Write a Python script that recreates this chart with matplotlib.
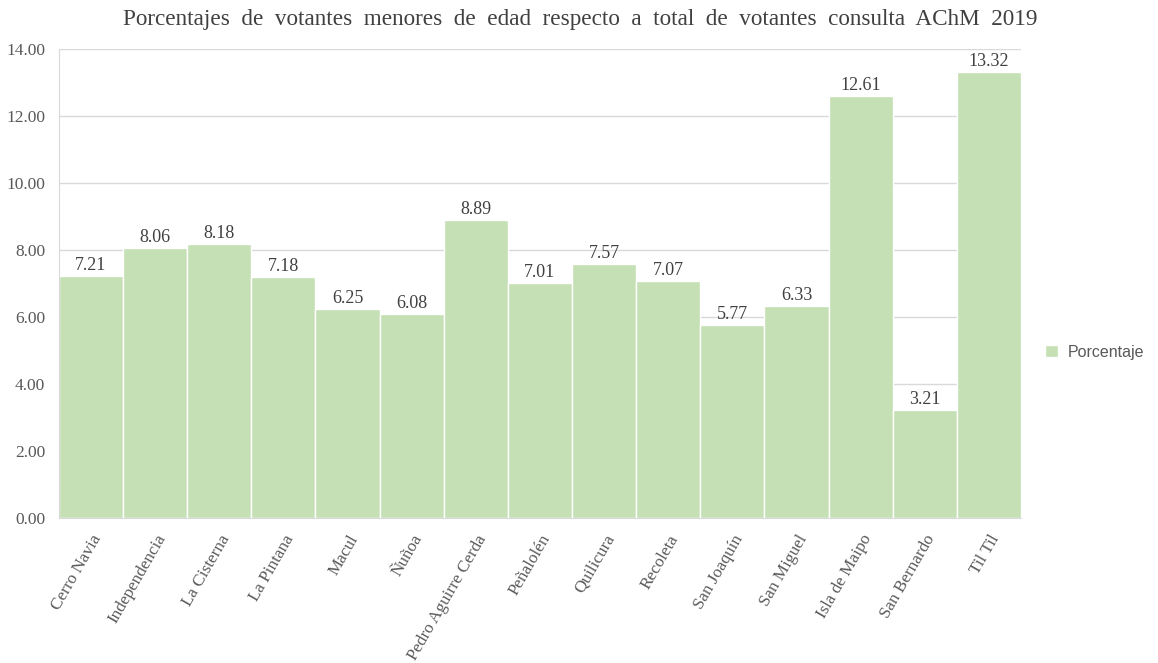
import numpy as np
import matplotlib
matplotlib.use("Agg")
import matplotlib.pyplot as plt

comunas = ["Cerro Navia", "Independencia", "La Cisterna", "La Pintana", "Macul",
           "Ñuñoa", "Pedro Aguirre Cerda", "Peñalolén", "Quilicura", "Recoleta",
           "San Joaquín", "San Miguel", "Isla de Maipo", "San Bernardo", "Til Til"]
porcentaje = [7.21, 8.06, 8.18, 7.18, 6.25, 6.08, 8.89, 7.01, 7.57, 7.07,
              5.77, 6.33, 12.61, 3.21, 13.32]

plt.rcParams['font.family'] = ['Liberation Serif', 'DejaVu Serif']

fig = plt.figure(figsize=(11.58, 6.63), dpi=100)
ax = fig.add_axes([0.0509, 0.2187, 0.8308, 0.7074])

x = np.arange(len(comunas))
bars = ax.bar(x, porcentaje, width=1.0, color='#C5E0B4', edgecolor='white',
              linewidth=1, label='Porcentaje', zorder=2)

for xi, v in zip(x, porcentaje):
    ax.text(xi, v + 0.06, f"{v:.2f}", ha='center', va='bottom',
            fontsize=13, color='#404040')

ax.set_xlim(-0.5, len(comunas) - 0.5)
ax.set_ylim(0, 14)
ax.set_yticks(np.arange(0, 14.01, 2))
ax.set_yticklabels([f"{t:.2f}" for t in np.arange(0, 14.01, 2)])
ax.set_xticks(x)
ax.set_xticklabels(comunas, rotation=60, ha='right', rotation_mode='anchor')

ax.tick_params(axis='both', length=0, labelcolor='#595959')
ax.tick_params(axis='y', pad=10, labelsize=12.5)
ax.tick_params(axis='x', pad=10, labelsize=12.3)
ax.yaxis.grid(True, color='#D9D9D9', linewidth=1, zorder=0)
for s in ['top', 'right']:
    ax.spines[s].set_visible(False)
ax.spines['left'].set_color('#D9D9D9')
ax.spines['bottom'].set_color('#D9D9D9')

ax.set_title("Porcentajes  de  votantes  menores  de  edad  respecto  a  total  de  votantes  consulta  AChM  2019",
             fontsize=16.7, color='#404040', pad=17, x=0.542)

leg = fig.legend(loc='center left', bbox_to_anchor=(0.890, 0.469), frameon=False,
                 prop={'family': 'Liberation Sans', 'size': 11.5},
                 handlelength=0.8, handleheight=0.8, handletextpad=0.6)
for t in leg.get_texts():
    t.set_color('#595959')

fig.savefig("out.png", dpi=100)
